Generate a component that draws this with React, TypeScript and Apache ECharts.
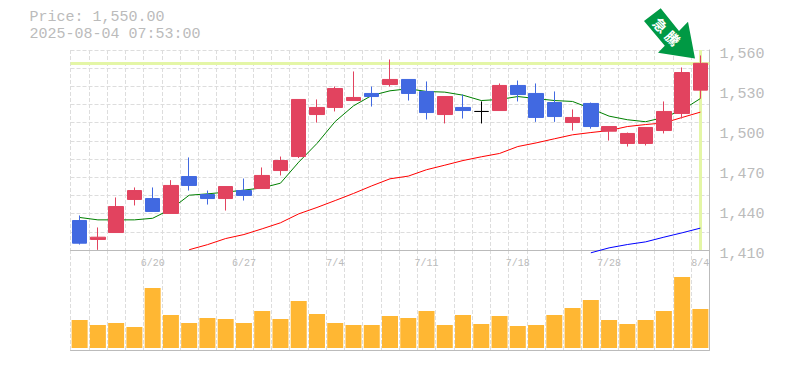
import React, { useEffect, useRef } from "react";
import * as echarts from "echarts";

const dates = ["6/16","6/17","6/18","6/19","6/20","6/23","6/24","6/25","6/26","6/27","6/30","7/1","7/2","7/3","7/4","7/7","7/8","7/9","7/10","7/11","7/14","7/15","7/16","7/17","7/18","7/22","7/23","7/24","7/25","7/28","7/29","7/30","7/31","8/1","8/4"];
// open, close, low, high
const ohlc = [
  [1432.1,1415.1,1414.1,1435.9],[1417.9,1419.6,1410.1,1426.9],[1423.1,1442.6,1423.1,1449.4],[1447.9,1454.6,1443.4,1456.9],
  [1448.6,1438.9,1438.9,1456.9],[1437.4,1458.4,1437.4,1462.4],[1465.1,1458.4,1454.6,1479.4],[1451.6,1448.6,1444.1,1454.6],
  [1448.6,1457.6,1439.6,1457.6],[1454.6,1450.9,1447.1,1463.6],[1456.1,1465.9,1456.1,1471.9],[1469.6,1477.1,1465.9,1480.1],
  [1480.1,1522.9,1479,1522.9],[1511.6,1516.9,1505.6,1522.9],[1516.9,1531.1,1513.9,1532.6],[1522.1,1524.4,1522.1,1543.9],
  [1527.4,1525.1,1517.6,1532.6],[1534.1,1537.9,1532.6,1552.9],[1537.9,1527.4,1522.1,1537.9],[1528.9,1513.1,1507.9,1536.4],
  [1511.6,1525.1,1504.9,1525.1],[1516.9,1514.6,1508.6,1526.6],[1513.9,1513.9,1504.9,1521.4],[1514.6,1533.4,1514.6,1534.9],
  [1533.4,1526.6,1521.4,1537.1],[1527.4,1509.4,1506.1,1534.9],[1520.6,1510.1,1506.1,1528.9],[1505.6,1509.4,1499.6,1515.4],
  [1519.9,1502.6,1501,1520.6],[1499.1,1502.6,1492.1,1502.6],[1489.9,1497.4,1487.6,1498.1],[1489.9,1501.9,1488.4,1501.9],
  [1499.6,1513.9,1497.4,1521.4],[1512.4,1543.1,1508.6,1546.9],[1529.9,1550,1523.6,1555.9],
];
const ma5 = [1434.4,1432.6,1432.6,1432.6,1433.8,1440.6,1451.1,1452.1,1453.4,1454.9,1456.6,1460.1,1475.9,1489.9,1506.4,1518.1,1525.9,1529.4,1530.9,1528.9,1528.4,1526.1,1522.1,1522.9,1525.1,1523.6,1522.1,1521.4,1516.1,1510.4,1507.7,1506.2,1509.4,1514.9,1523.6];
const ma25 = [null,null,null,null,null,null,1410.2,1414,1418.6,1421.6,1425.9,1430.4,1437.1,1441.9,1447.1,1452.4,1458.1,1463.4,1465.4,1470.2,1473.6,1477.1,1479.9,1482.4,1487.6,1490.3,1493.4,1496.4,1498.1,1499.6,1502.6,1504.1,1505.3,1509.4,1513.4];
const ma75 = [...Array(28).fill(null),1407.9,1411.6,1414.1,1416.1,1419.6,1422.9,1426.4];
const volumes = [28,23,25,21,60,33,25,30,29,25,37,29,47,34,25,23,23,32,30,37,23,33,24,32,22,23,33,40,48,28,24,28,37,71,39];
const lastPrice = 1550;
const priceLines = ["Price: 1,550.00","2025-08-04 07:53:00"];

const GREY = "#bbbbbb";
const GRID = "#dddddd";
const RED = "#e2435f";
const BLUE = "#4169e1";
const YELLOW = "#e4f6a6";
const MONO = "'Liberation Mono', monospace";

export default function App() {
  const ref = useRef<HTMLDivElement>(null);
  useEffect(() => {
    const chart = echarts.init(ref.current!, undefined, { renderer: "svg" });
    const candleData = ohlc.map((v, i) =>
      v[0] === v[1]
        ? { value: v, itemStyle: { color: "#000", color0: "#000", borderColor: "#000", borderColor0: "#000" } }
        : { value: v });
    const maLine = (name: string, data: any[], color: string) => ({
      name, type: "line", data, xAxisIndex: 0, yAxisIndex: 0, symbol: "none", clip: false, silent: true,
      lineStyle: { color, width: 1 }, z: 3,
    });
    chart.setOption({
      animation: false,
      backgroundColor: "#fff",
      grid: [
        { left: 70.5, width: 639, top: 50, height: 200 },
        { left: 70.5, width: 639, top: 250, height: 100 },
      ],
      xAxis: [
        {
          type: "category", gridIndex: 0, data: dates, boundaryGap: true,
          axisTick: { show: false },
          axisLine: { show: true, onZero: false, lineStyle: { color: GREY, width: 1 } },
          axisLabel: {
            color: GREY, fontFamily: MONO, fontSize: 10, margin: 8, hideOverlap: false,
            interval: (i: number) => i % 5 === 4,
          },
          splitLine: { show: true, interval: 0, lineStyle: { color: GRID, type: "dashed", width: 1 } },
        },
        {
          type: "category", gridIndex: 1, data: dates, boundaryGap: true,
          axisTick: { show: false }, axisLabel: { show: false },
          axisLine: { show: true, onZero: false, lineStyle: { color: GREY, width: 1 } },
          splitLine: { show: true, interval: 0, lineStyle: { color: GRID, type: "dashed", width: 1 } },
        },
      ],
      yAxis: [
        {
          type: "value", gridIndex: 0, position: "right", min: 1410, max: 1560, interval: 30,
          axisTick: { show: false },
          axisLine: { show: true, lineStyle: { color: GREY, width: 1 } },
          axisLabel: {
            color: GREY, fontFamily: MONO, fontSize: 15, margin: 10, verticalAlign: "top", lineHeight: 8,
            formatter: (v: number) => v.toLocaleString("en-US"),
          },
          splitLine: { show: false },
        },
        {
          type: "value", gridIndex: 0, position: "left", min: 0, max: 11, interval: 1,
          axisTick: { show: false }, axisLine: { show: false }, axisLabel: { show: false },
          splitLine: { show: true, lineStyle: { color: GRID, type: "dashed", width: 1 } },
        },
        {
          type: "value", gridIndex: 1, position: "right", min: -2, max: 98,
          axisTick: { show: false }, axisLabel: { show: false },
          axisLine: { show: true, lineStyle: { color: GREY, width: 1 } },
          splitLine: { show: false },
        },
      ],
      series: [
        {
          type: "line", data: [], xAxisIndex: 0, yAxisIndex: 0, z: 1, silent: true,
          markLine: {
            z: 1, silent: true, symbol: "none", animation: false, label: { show: false },
            lineStyle: { color: YELLOW, width: 3, type: "solid" },
            data: [{ yAxis: lastPrice }, { xAxis: dates[dates.length - 1] }],
          },
        },
        maLine("MA5", ma5, "#008000"),
        maLine("MA25", ma25, "#ff0000"),
        maLine("MA75", ma75, "#0000ff"),
        {
          name: "Price", type: "candlestick", xAxisIndex: 0, yAxisIndex: 0, data: candleData, barWidth: 15, z: 4, clip: false,
          itemStyle: { color: RED, color0: BLUE, borderColor: RED, borderColor0: BLUE, borderWidth: 1 },
        },
        {
          name: "Volume", type: "bar", xAxisIndex: 1, yAxisIndex: 2, data: volumes, barWidth: 16,
          itemStyle: { color: "#ffb733" },
        },
      ],
      graphic: [
        { type: "text", x: 29.5, y: 10, silent: true, style: { text: priceLines[0], fill: GREY, font: `15px ${MONO}` } },
        { type: "text", x: 29.5, y: 27, silent: true, style: { text: priceLines[1], fill: GREY, font: `15px ${MONO}` } },
        {
          type: "polygon", silent: true, z: 20,
          shape: { points: [[660.7, 8.3], [644, 21], [664.8, 45.7], [658, 52.7], [695, 58.5], [688, 21.7], [679, 31]] },
          style: { fill: "#009944" },
        },
        {
          type: "text", silent: true, z: 21, x: 660.7, y: 25, rotation: -Math.PI / 4,
          style: { text: "急", fill: "#fff", font: `bold 14px 'Noto Sans CJK JP'`, align: "center", verticalAlign: "middle" },
        },
        {
          type: "text", silent: true, z: 21, x: 673, y: 38, rotation: -Math.PI / 4,
          style: { text: "騰", fill: "#fff", font: `bold 14px 'Noto Sans CJK JP'`, align: "center", verticalAlign: "middle" },
        },
      ],
    });
    return () => chart.dispose();
  }, []);
  return <div ref={ref} style={{ position: "absolute", left: 0, top: 0, width: 785, height: 370 }} />;
}
